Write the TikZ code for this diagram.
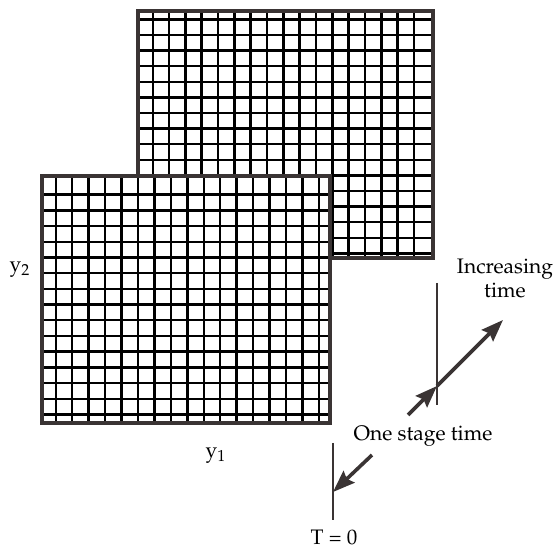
\documentclass[tikz,border=0pt]{standalone}
\usepackage[T1]{fontenc}
\usepackage{mathpazo}
\usepackage{tikz}
\usetikzlibrary{arrows.meta}

\definecolor{framegray}{RGB}{58,52,52}

\begin{document}
\begin{tikzpicture}[x=0.5pt, y=-0.5pt,
    cell/.style={line width=1.2pt, black},
    frame/.style={line width=2.2pt, draw=framegray},
    timeline/.style={line width=1.1pt, draw=framegray},
    pointer/.style={line width=1.8pt, draw=framegray, -{Stealth[length=11pt, width=8pt, inset=1.5pt]}},
    lbl/.style={font=\fontsize{10.5}{12}\selectfont, inner sep=0pt, align=center}]
  \useasboundingbox (0,0) rectangle (557,550);
  % later stage (back)
  \fill[white] (138,11) rectangle (433,258);
  \foreach \i in {0,...,16}
    \draw[cell] ({152.7+16.33*\i},11) -- ++(0,247);
  \foreach \j in {0,...,15}
    \draw[cell] (138,{19.5+15.6*\j}) -- ++(295,0);
  \draw[frame] (138,11) rectangle (433,258);
  % stage at T = 0 (front)
  \fill[white] (42,176) rectangle (330,423);
  \foreach \i in {0,...,16}
    \draw[cell] ({55.7+16.45*\i},176) -- ++(0,247);
  \foreach \j in {0,...,14}
    \draw[cell] (42,{194.7+15.7*\j}) -- ++(288,0);
  \draw[frame] (42,176) rectangle (330,423);
  % labels
  \node[lbl] (ytwo) at (20,270) {y\textsubscript{2}};
  \node[lbl] (yone) at (216,456) {y\textsubscript{1}};
  \node[lbl] (incr) at (505,278) {Increasing\\time};
  \node[lbl] (stage) at (423,436) {One stage time};
  \node[lbl] (zero) at (334,537) {T = 0};
  % time axis
  \coordinate (later top) at (437,283);
  \coordinate (later bottom) at (437,405);
  \coordinate (start top) at (333,443);
  \coordinate (start bottom) at (333,520);
  \coordinate (stage tail) at (408,415);
  \coordinate (stage hit) at (437,386);
  \coordinate (time tip) at (503,320);
  \coordinate (zero tail) at (372,455);
  \coordinate (zero hit) at (333,492);
  \draw[timeline] (later top) -- (later bottom);
  \draw[timeline] (start top) -- (start bottom);
  \draw[pointer] (stage tail) -- (stage hit);
  \draw[pointer] (stage hit) -- (time tip);
  \draw[pointer] (zero tail) -- (zero hit);
\end{tikzpicture}
\end{document}
